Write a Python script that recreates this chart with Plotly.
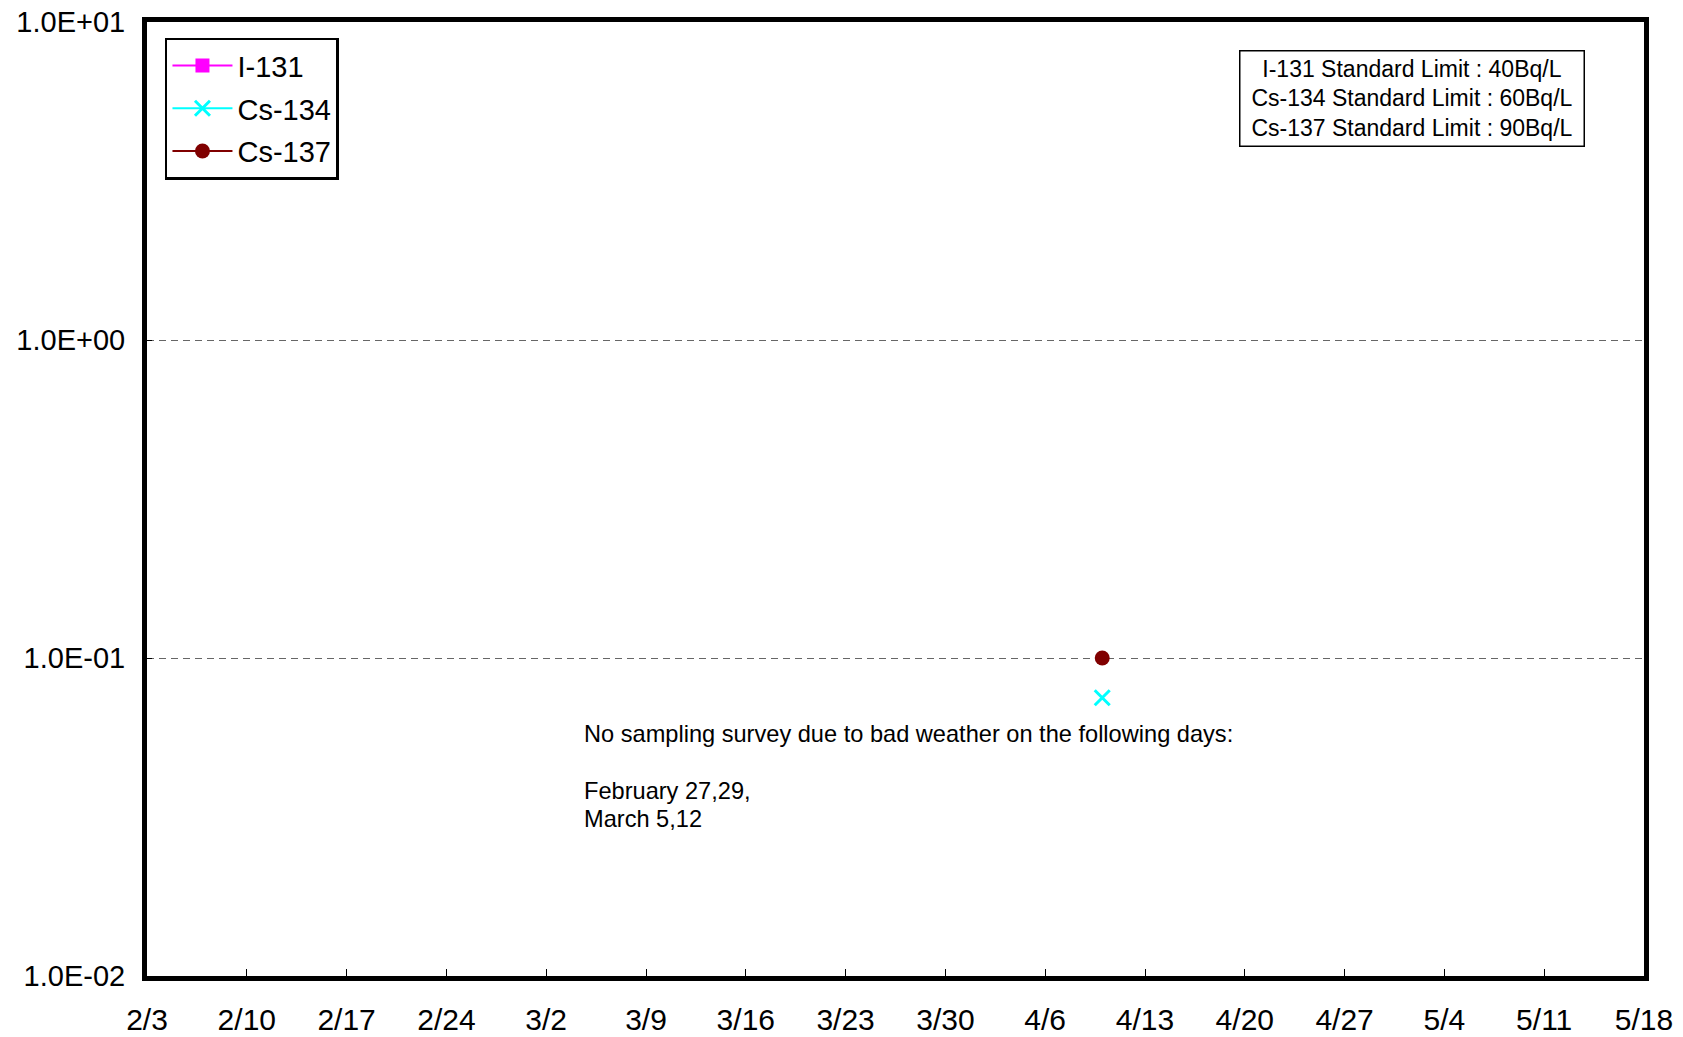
import plotly.graph_objects as go

# Sampling dates and measured concentrations (Bq/L); None = not detected
dates = ["2012-04-10"]
i131 = [None]
cs134 = [0.075]
cs137 = [0.1]

# Weekly x-axis ticks
tick_dates = ["2012-02-03", "2012-02-10", "2012-02-17", "2012-02-24", "2012-03-02",
              "2012-03-09", "2012-03-16", "2012-03-23", "2012-03-30", "2012-04-06",
              "2012-04-13", "2012-04-20", "2012-04-27", "2012-05-04", "2012-05-11",
              "2012-05-18"]
tick_labels = ["2/3", "2/10", "2/17", "2/24", "3/2", "3/9", "3/16", "3/23", "3/30",
               "4/6", "4/13", "4/20", "4/27", "5/4", "5/11", "5/18"]

y_ticks = [0.01, 0.1, 1, 10]
y_labels = ["1.0E-02", "1.0E-01", "1.0E+00", "1.0E+01"]

limits_text = ("I-131 Standard Limit : 40Bq/L<br>"
               "Cs-134 Standard Limit : 60Bq/L<br>"
               "Cs-137 Standard Limit : 90Bq/L")

# Note block: one annotation per line (paper y of each line's centre)
note_lines = ["No sampling survey due to bad weather on the following days:",
              "February 27,29,",
              "March 5,12"]
note_y = [0.2535, 0.1939, 0.1646]

FONT = "Liberation Sans, Arial, sans-serif"

fig = go.Figure()
fig.add_trace(go.Scatter(
    x=dates, y=i131, name="I-131", mode="lines+markers", legendgroup="a",
    line=dict(color="#FF00FF", width=2),
    marker=dict(symbol="square", size=14, color="#FF00FF"),
))
fig.add_trace(go.Scatter(
    x=dates, y=cs134, name="Cs-134", mode="lines+markers", legendgroup="b",
    line=dict(color="#00FFFF", width=2),
    marker=dict(symbol="x-thin", size=15, color="#00FFFF",
                line=dict(color="#00FFFF", width=3)),
))
fig.add_trace(go.Scatter(
    x=dates, y=cs137, name="Cs-137", mode="lines+markers", legendgroup="c",
    line=dict(color="#800000", width=2),
    marker=dict(symbol="circle", size=15, color="#800000"),
))

annotations = [
    dict(
        text=limits_text, xref="paper", yref="paper",
        x=0.8447, y=0.9706, xanchor="center", yanchor="top",
        showarrow=False, align="center", width=335,
        font=dict(size=23, family=FONT),
        bordercolor="black", borderwidth=1.5, borderpad=4, bgcolor="white",
    ),
]
for line, ypos in zip(note_lines, note_y):
    annotations.append(dict(
        text=line, xref="paper", yref="paper",
        x=0.2906, y=ypos, xanchor="left", yanchor="middle",
        showarrow=False, align="left",
        font=dict(size=23.6, family=FONT),
    ))

fig.update_layout(
    width=1683, height=1037,
    margin=dict(l=147, r=39, t=22, b=61, autoexpand=False),
    paper_bgcolor="white", plot_bgcolor="white",
    font=dict(family=FONT, color="black", size=28),
    showlegend=True,
    legend=dict(
        x=0.012, y=0.9835, xanchor="left", yanchor="top",
        bordercolor="black", borderwidth=2.5, bgcolor="white",
        font=dict(size=29), tracegroupgap=2, itemwidth=60,
    ),
    xaxis=dict(
        type="date", range=["2012-02-03", "2012-05-18"],
        tickmode="array", tickvals=tick_dates, ticktext=tick_labels,
        ticks="inside", ticklen=7, tickwidth=1, tickcolor="black",
        tickfont=dict(size=30), ticklabelstandoff=13, automargin=False,
        showline=True, linecolor="black", linewidth=5, mirror=True,
        showgrid=False, zeroline=False,
    ),
    yaxis=dict(
        type="log", range=[-2, 1],
        tickmode="array", tickvals=y_ticks, ticktext=y_labels,
        ticks="inside", ticklen=5, tickwidth=1, tickcolor="black",
        tickfont=dict(size=29), ticklabelstandoff=11, automargin=False,
        showline=True, linecolor="black", linewidth=5, mirror=True,
        showgrid=True, gridcolor="#666666", gridwidth=1, griddash="7px,5px",
        zeroline=False,
    ),
    annotations=annotations,
)

fig.write_html("out.html")
